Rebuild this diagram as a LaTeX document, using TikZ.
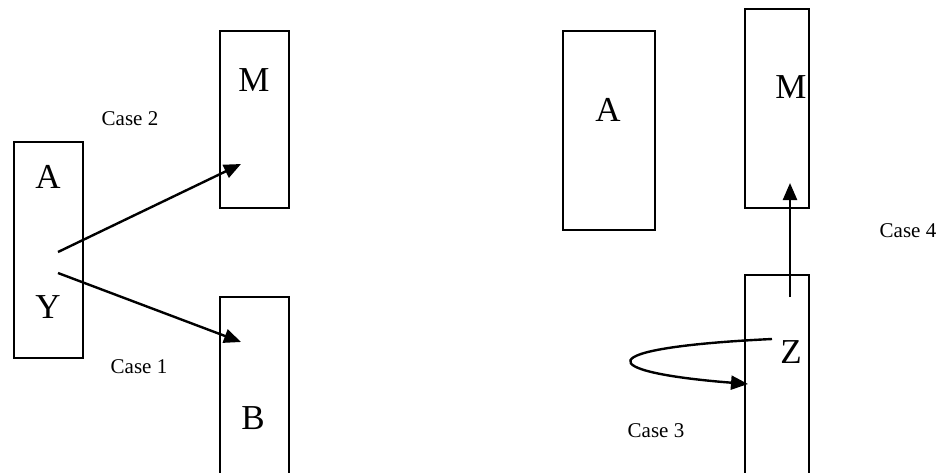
\documentclass[tikz,border=0pt]{standalone}
\usepackage{fontspec}
\setmainfont{Liberation Serif}
\usetikzlibrary{arrows.meta}
\begin{document}
\begin{tikzpicture}[x=1pt,y=-1pt,
  box/.style={draw,line width=1.6pt,inner sep=0pt,anchor=north west},
  big/.style={font=\fontsize{35}{38}\selectfont,anchor=base,inner sep=0pt},
  small/.style={font=\fontsize{21}{24}\selectfont,anchor=base,inner sep=0pt},
  arr/.style={line width=2.4pt,-{Triangle[length=17pt,width=14pt]}}]
\useasboundingbox (0,0) rectangle (939,472);
\clip (0,0) rectangle (939,472);
% boxes
\node[box,minimum width=69pt,minimum height=216pt] (lA) at (13,141) {};
\node[box,minimum width=69pt,minimum height=177pt] (lM) at (219,30) {};
\node[box,minimum width=69pt,minimum height=230pt] (lB) at (219,296) {};
\node[box,minimum width=92pt,minimum height=199pt] (rA) at (562,30) {};
\node[box,minimum width=64pt,minimum height=199pt] (rM) at (744,8) {};
\node[box,minimum width=64pt,minimum height=250pt] (rZ) at (744,274) {};
% letters
\node[big] (tA1) at (48,188) {A};
\node[big] (tY) at (48,318) {Y};
\node[big] (tM1) at (254,91) {M};
\node[big] (tB) at (253,429) {B};
\node[big] (tA2) at (608,121) {A};
\node[big] (tM2) at (791,98) {M};
\node[big] (tZ) at (791,363) {Z};
% case labels
\node[small] (c2) at (130,125) {Case 2};
\node[small] (c1) at (139,373) {Case 1};
\node[small] (c3) at (656,437) {Case 3};
\node[small] (c4) at (908,237) {Case 4};
% arrow end points
\coordinate (s2) at (58,252);
\coordinate (e2) at (241,164);
\coordinate (s1) at (58,273);
\coordinate (e1) at (241,342);
\coordinate (s4) at (790,297);
\coordinate (e4) at (790,183);
\coordinate (s3) at (772,339);
\coordinate (e3) at (748,384);
\draw[arr] (s2) -- (e2);
\draw[arr] (s1) -- (e1);
\draw[arr] (s4) -- (e4);
\draw[arr] (s3) .. controls (585,348) and (595,372) .. (e3);
\end{tikzpicture}
\end{document}
